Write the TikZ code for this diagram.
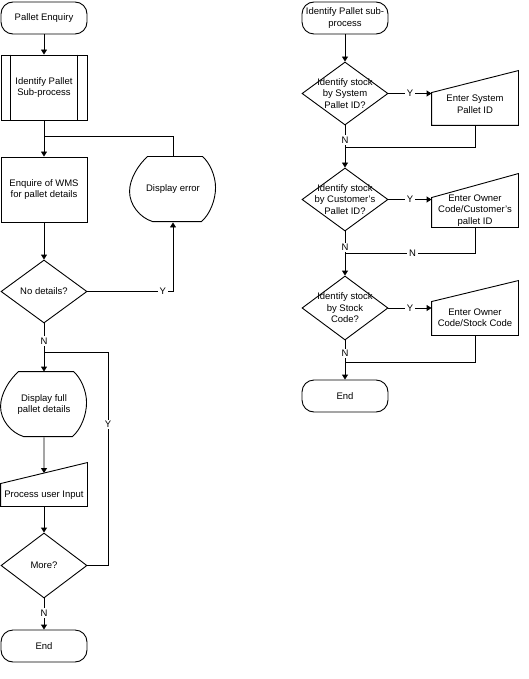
\documentclass[tikz,border=0pt]{standalone}
\usepackage{fontspec}
\setmainfont{Liberation Sans}
\usetikzlibrary{arrows.meta,shapes.geometric,calc}
\newcommand\minout[3]{%
  \draw (#1.south west) -- ([yshift=-#2pt]#1.north west) -- ([yshift=#3pt]#1.north east) -- (#1.south east) -- cycle;
  \coordinate (#1-top) at ($([yshift=-#2pt]#1.north west)!0.5!([yshift=#3pt]#1.north east)$);}
\newcommand\dispout[1]{%
  \begin{scope}[shift={(#1.north west)}]
  \draw (18,0) -- (73,0) .. controls (80,6) and (86,19) .. (86,31)
     .. controls (86,44) and (80,58) .. (72,65) -- (23,65)
     .. controls (10,61) and (0,48) .. (0,35)
     .. controls (0,22) and (9,8) .. cycle;
  \end{scope}}
\newcommand\predef[1]{%
  \draw ([xshift=10pt]#1.north west) -- ([xshift=10pt]#1.south west);
  \draw ([xshift=-10pt]#1.north east) -- ([xshift=-10pt]#1.south east);}
\begin{document}
\begin{tikzpicture}[x=1pt,y=-1pt, line width=0.9pt,
  every node/.style={font=\fontsize{9.5}{11.5}\selectfont, align=center, inner sep=0pt},
  term/.style={draw, rounded corners=12pt, minimum width=86pt, minimum height=32pt},
  proc/.style={draw, minimum width=86pt, minimum height=65pt},
  dec/.style={draw, diamond, minimum width=86pt, minimum height=63pt},
  shapebox/.style={minimum width=86pt},
  arr/.style={-{Triangle[width=6pt,length=5pt]}},
  lab/.style={fill=white, inner xsep=2pt, inner ysep=1.5pt}]
\useasboundingbox (0,0) rectangle (529,679);

% ---------- left column ----------
\node[term] (pe) at (44,18) {Pallet Enquiry};
\node[proc] (ip) at (44,87.5) {Identify Pallet\\Sub-process};
\predef{ip}
\node[proc] (enq) at (44,189.5) {Enquire of WMS\\for pallet details};
\node[shapebox, minimum height=65pt] (derr) at (173,189.5) {Display error};
\dispout{derr}
\node[dec, label=center:No details?] (nd) at (44,291.5) {};
\node[shapebox, minimum height=65pt] (dfull) at (44,404.5) {Display full\\pallet details};
\dispout{dfull}
\node[shapebox, minimum height=22pt] (pui) at (44,495) {Process user Input};
\minout{pui}{0}{21}
\node[dec, minimum height=65pt, label=center:More?] (more) at (44,565.5) {};
\node[term] (end1) at (44,646) {End};

\coordinate (j1) at (44,136);
\coordinate (j2) at (44,352);
\coordinate (lp) at (108,352);

\draw[arr] (pe.south) -- (ip.north);
\draw[arr] (ip.south) -- (enq.north);
\draw (derr.north) |- (j1);
\draw[arr] (enq.south) -- (nd.north);
\draw[arr] (nd.east) -| node[lab,pos=0.44]{Y} (derr.south);
\draw[arr] (nd.south) -- node[lab,pos=0.37]{N} (dfull.north);
\draw (more.east) -| node[lab,pos=0.83]{Y} (lp) -- (j2);
\draw[arr] (dfull.south) -- (pui-top);
\draw[arr] (pui.south) -- (more.north);
\draw[arr] (more.south) -- node[lab,pos=0.47]{N} (end1.north);

% ---------- right column ----------
\node[term] (ips) at (345,18) {Identify Pallet sub-\\process};
\node[dec, label={center:Identify stock\\by System\\Pallet ID?}] (d1) at (345,93.5) {};
\node[shapebox, minimum height=42pt] (b1) at (475,104) {Enter System\\Pallet ID};
\minout{b1}{10}{12}
\node[dec, label={center:Identify stock\\by Customer's\\Pallet ID?}] (d2) at (345,199.5) {};
\node[shapebox, minimum height=33pt] (b2) at (475,210.5) {Enter Owner\\Code/Customer's\\pallet ID};
\minout{b2}{4}{20}
\node[dec, minimum height=64pt, label={center:Identify stock\\by Stock\\Code?}] (d3) at (345,308) {};
\node[shapebox, minimum height=35pt] (b3) at (475,317.5) {Enter Owner\\Code/Stock Code};
\minout{b3}{2}{19}
\node[term] (end2) at (345,396) {End};

\coordinate (jr1) at (345,147);
\coordinate (jr2) at (345,253);
\coordinate (jr3) at (345,362);

\draw[arr] (ips.south) -- (d1.north);
\draw[arr] (d1.east) -- node[lab]{Y} (d1.east -| b1.west);
\draw[arr] (d1.south) -- node[lab,pos=0.35]{N} (d2.north);
\draw (b1.south) |- (jr1);
\draw[arr] (d2.east) -- node[lab]{Y} (d2.east -| b2.west);
\draw[arr] (d2.south) -- node[lab,pos=0.36]{N} (d3.north);
\draw (b2.south) |- node[lab,pos=0.74]{N} (jr2);
\draw[arr] (d3.east) -- node[lab]{Y} (d3.east -| b3.west);
\draw[arr] (d3.south) -- node[lab,pos=0.33]{N} (end2.north);
\draw (b3.south) |- (jr3);
\end{tikzpicture}
\end{document}
